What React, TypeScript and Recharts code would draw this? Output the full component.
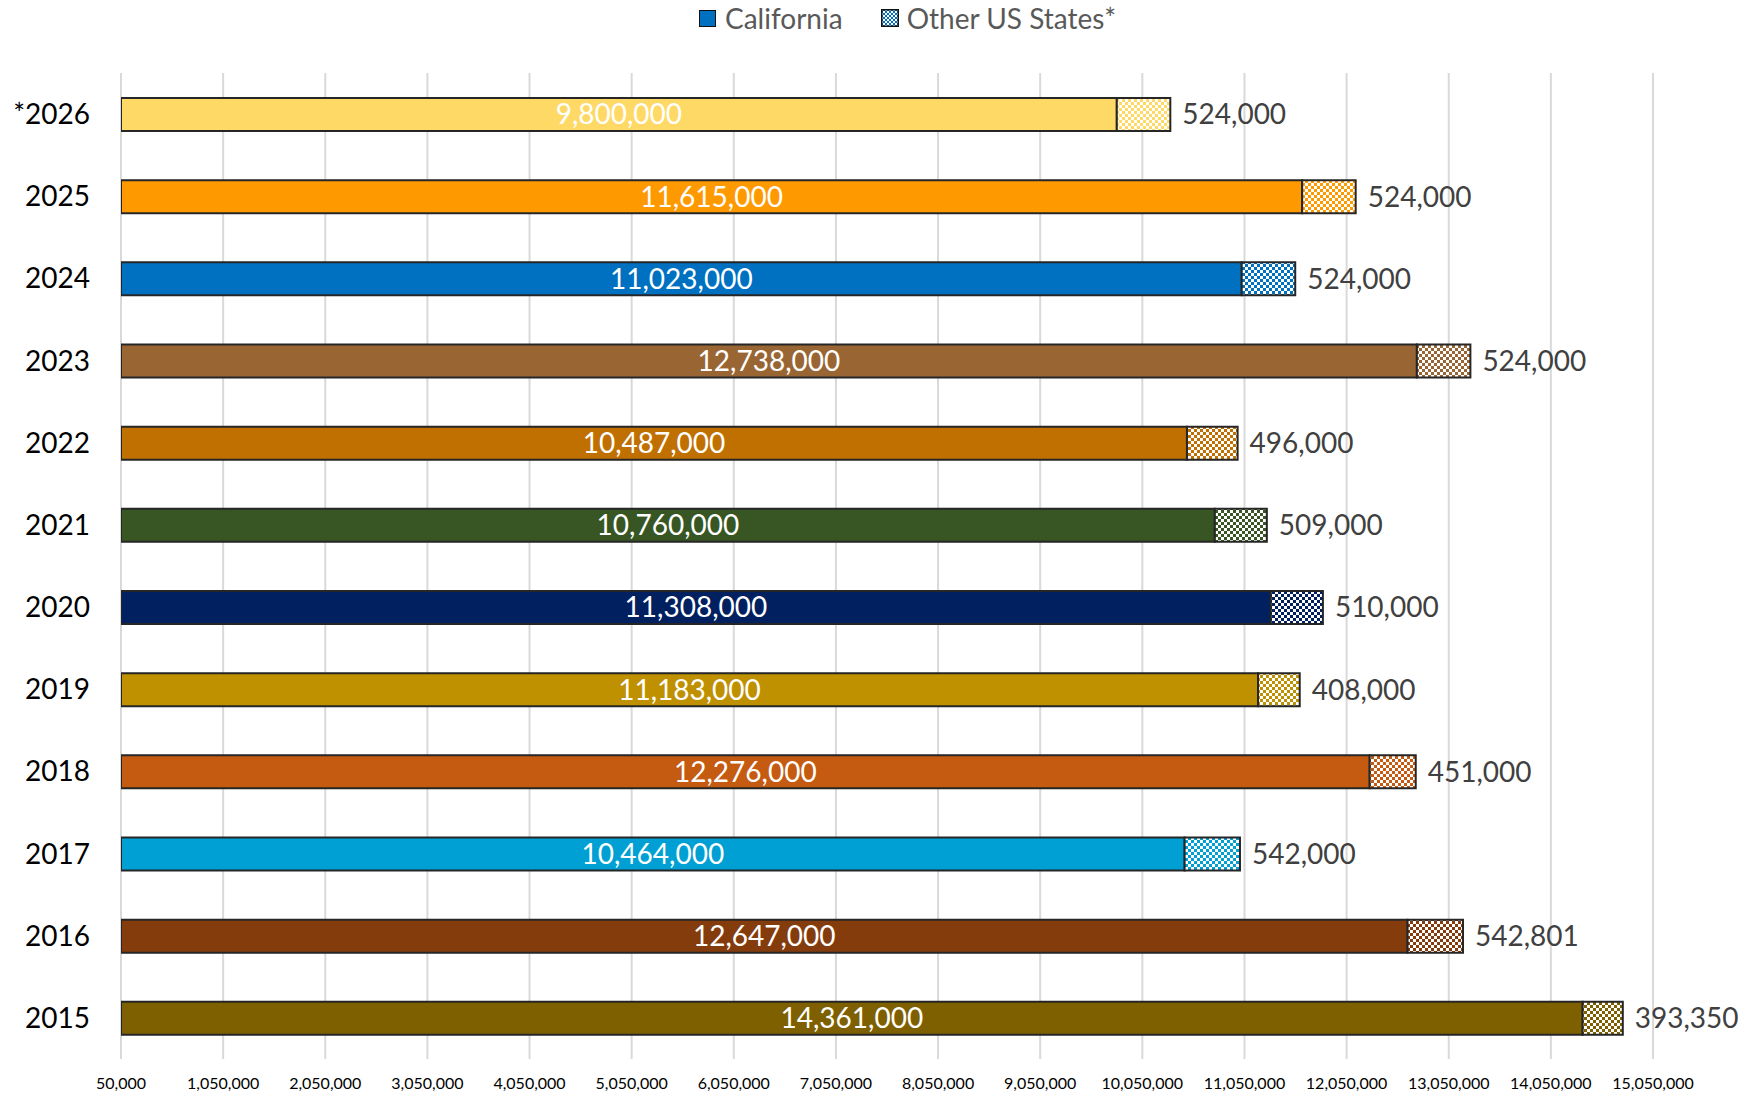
import { BarChart, Bar, XAxis, YAxis, CartesianGrid, Cell, LabelList } from "recharts";

const years = ["*2026", "2025", "2024", "2023", "2022", "2021", "2020", "2019", "2018", "2017", "2016", "2015"];
const california = [9800000, 11615000, 11023000, 12738000, 10487000, 10760000, 11308000, 11183000, 12276000, 10464000, 12647000, 14361000];
const otherStates = [524000, 524000, 524000, 524000, 496000, 509000, 510000, 408000, 451000, 542000, 542801, 393350];
const yearColors = ["#FFD966", "#FF9900", "#0070C0", "#996633", "#BF7000", "#375623", "#002060", "#BF9000", "#C55A11", "#009FD4", "#843C0C", "#7F6000"];
const xTicks = [50000, 1050000, 2050000, 3050000, 4050000, 5050000, 6050000, 7050000, 8050000, 9050000, 10050000, 11050000, 12050000, 13050000, 14050000, 15050000];
const edgeTicks = [0, 1, 2, 3, 4, 5, 6, 7, 8, 9, 10, 11, 12];

const data = years.map((year, i) => ({ year, california: california[i], other: otherStates[i] }));
const fmt = (v: any) => Number(v).toLocaleString("en-US");
const FONT = "Lato, 'Open Sans', sans-serif";
const GRID = "#d9d9d9";

function LegendBox() {
  return (
    <div style={{ position: "absolute", left: 699, top: 0, height: 36, display: "flex", alignItems: "center", fontSize: 28, color: "#595959" }}>
      <span style={{ width: 15, height: 15, background: "#0070C0", border: "1.5px solid #111", marginRight: 9 }} />
      <span style={{ marginRight: 38 }}>California</span>
      <svg width={18} height={18} style={{ marginRight: 8 }}>
        <rect x={0.75} y={0.75} width={16.5} height={16.5} fill="url(#legendChk)" stroke="#111" strokeWidth={1.5} />
        <defs>
          <pattern id="legendChk" width={4} height={4} patternUnits="userSpaceOnUse">
            <rect width={4} height={4} fill="#0070C0" />
            <rect width={2} height={2} fill="#fff" />
            <rect x={2} y={2} width={2} height={2} fill="#fff" />
          </pattern>
        </defs>
      </svg>
      <span>Other US States*</span>
    </div>
  );
}

export default function App() {
  return (
    <div style={{ position: "absolute", left: 0, top: 0, width: 1758, height: 1097, background: "#fff", fontFamily: FONT }}>
      <LegendBox />
      <BarChart width={1758} height={1097} data={data} layout="vertical" margin={{ top: 73, right: 105, bottom: 0, left: 0 }}>
        <defs>
          {yearColors.map((c, i) => (
            <pattern key={i} id={`chk-${i}`} width={6} height={6} patternUnits="userSpaceOnUse">
              <rect width={6} height={6} fill={c} />
              <rect width={3} height={3} fill="#fff" />
              <rect x={3} y={3} width={3} height={3} fill="#fff" />
            </pattern>
          ))}
        </defs>
        <CartesianGrid horizontal={false} stroke={GRID} strokeWidth={2} />
        <XAxis type="number" domain={[50000, 15050000]} ticks={xTicks} interval={0} allowDataOverflow
          tickFormatter={fmt} axisLine={false} tickLine={false} tickSize={0} tickMargin={19} height={38}
          tick={{ fill: "#000", fontSize: 16 }} />
        <YAxis yAxisId="edge" type="number" domain={[0, 12]} ticks={edgeTicks} width={0} tick={false}
          tickSize={10} axisLine={{ stroke: GRID, strokeWidth: 2 }} tickLine={{ stroke: GRID, strokeWidth: 2 }} />
        <YAxis yAxisId="cat" type="category" dataKey="year" width={121} axisLine={false} tickLine={false}
          tickSize={0} tickMargin={31} tick={{ fill: "#000", fontSize: 28 }} />
        <Bar dataKey="california" stackId="a" yAxisId="cat" barSize={33} stroke="#262626" strokeWidth={2} isAnimationActive={false}>
          {data.map((d, i) => <Cell key={d.year} fill={yearColors[i]} />)}
          <LabelList dataKey="california" position="center" fill="#fff" fontSize={28} formatter={fmt} />
        </Bar>
        <Bar dataKey="other" stackId="a" yAxisId="cat" barSize={33} stroke="#262626" strokeWidth={2} isAnimationActive={false}>
          {data.map((d, i) => <Cell key={d.year} fill={`url(#chk-${i})`} />)}
          <LabelList dataKey="other" position="right" offset={12} fill="#404040" fontSize={28} formatter={fmt} />
        </Bar>
      </BarChart>
    </div>
  );
}
